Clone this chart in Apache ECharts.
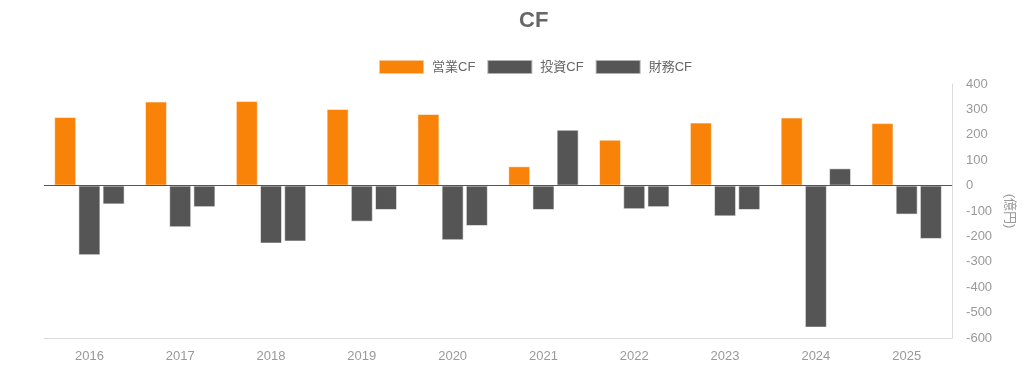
<!DOCTYPE html>
<html>
<head>
<meta charset="utf-8">
<script src="https://cdn.jsdelivr.net/npm/echarts@6/dist/echarts.min.js"></script>
<style>html,body{margin:0;padding:0;background:#fff}#c{width:1024px;height:371px}</style>
</head>
<body>
<div id="c"></div>
<script>
const categories = ['2016','2017','2018','2019','2020','2021','2022','2023','2024','2025'];
const eigyoCF = [270, 331, 333, 302, 282, 76, 181, 248, 268, 246];
const toshiCF = [-274, -164, -228, -142, -215, -96, -93, -121, -559, -114];
const zaimuCF = [-74, -85, -220, -96, -159, 220, -85, -96, 68, -210];
const seriesNames = ['営業CF', '投資CF', '財務CF'];

const font = '"Liberation Sans", Arial, "Noto Sans CJK JP", sans-serif';
const chart = echarts.init(document.getElementById('c'), null, {renderer: 'canvas'});
const barStyle = (c) => ({color: c, borderColor: 'rgba(255,255,255,0.55)', borderWidth: 1});
chart.setOption({
  animation: false,
  textStyle: {fontFamily: font},
  title: {
    text: 'CF', left: 514, top: 5,
    textStyle: {fontSize: 22, fontWeight: 'bold', color: '#666', fontFamily: font}
  },
  legend: {
    left: 373, top: 54,
    itemWidth: 45, itemHeight: 14, itemGap: 11,
    icon: 'rect',
    textStyle: {fontSize: 13, color: '#666', fontFamily: font, padding: [0, 0, 0, 3]},
    data: seriesNames
  },
  grid: {left: 44, right: 68, top: 84, bottom: 33, containLabel: false},
  xAxis: {
    type: 'category',
    data: categories,
    axisLine: {onZero: false, lineStyle: {color: '#ddd'}},
    axisTick: {show: false},
    axisLabel: {color: '#999', fontSize: 13, margin: 12}
  },
  yAxis: {
    type: 'value',
    position: 'right',
    min: -600, max: 400, interval: 100,
    name: '(億円)',
    nameLocation: 'middle',
    nameRotate: -90,
    nameGap: 50,
    nameTextStyle: {color: '#999', fontSize: 13},
    axisLine: {show: true, lineStyle: {color: '#ddd'}},
    axisTick: {show: false},
    splitLine: {show: false},
    axisLabel: {color: '#999', fontSize: 13, margin: 14}
  },
  series: [
    {
      name: seriesNames[0], type: 'bar', data: eigyoCF, barWidth: 22, barGap: '10%',
      itemStyle: barStyle('#f98209'),
      markLine: {
        silent: true, symbol: 'none', label: {show: false},
        lineStyle: {color: '#555', type: 'solid', width: 1},
        data: [{yAxis: 0}]
      }
    },
    {name: seriesNames[1], type: 'bar', data: toshiCF, barWidth: 22, barGap: '10%', itemStyle: barStyle('#555555')},
    {name: seriesNames[2], type: 'bar', data: zaimuCF, barWidth: 22, barGap: '10%', itemStyle: barStyle('#555555')}
  ]
});
</script>
</body>
</html>
